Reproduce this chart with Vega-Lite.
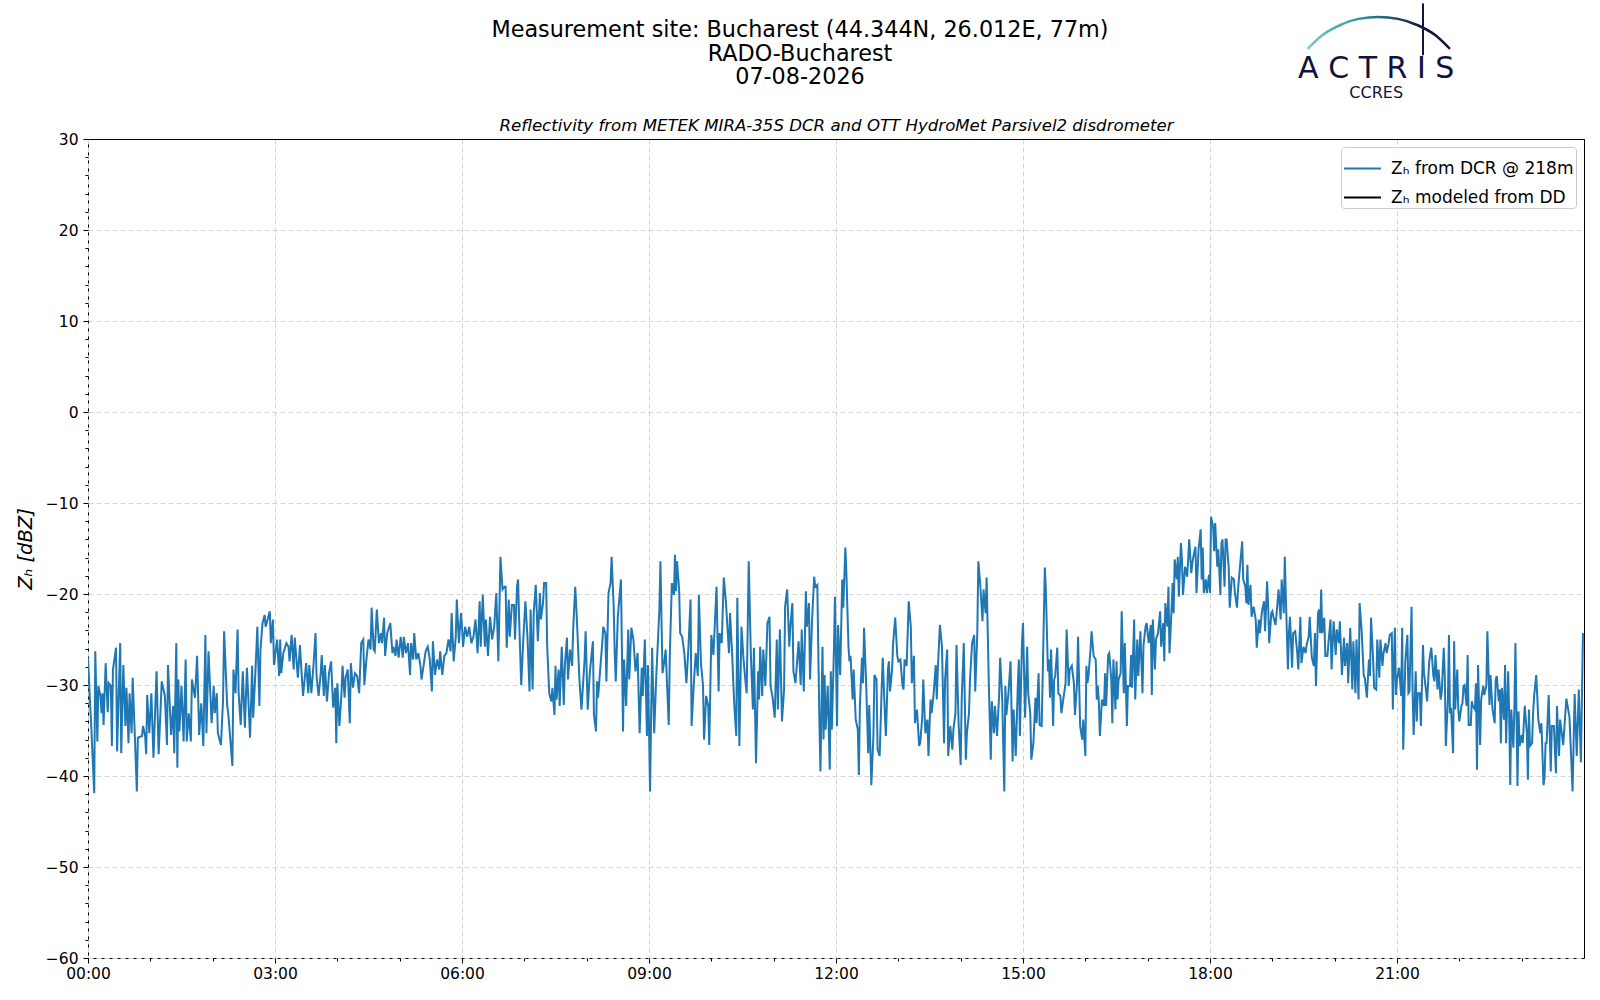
{
"$schema":"https://vega.github.io/schema/vega-lite/v6.json",
"width":1496,"height":819,
"autosize":{"type":"none"},
"padding":{"left":88,"top":139,"right":16,"bottom":42},
"background":"white",
"title":{"text":["Measurement site: Bucharest (44.344N, 26.012E, 77m)","RADO-Bucharest","07-08-2026"],"font":"DejaVu Sans","fontSize":22.3,"fontWeight":"normal","color":"black","anchor":"middle","dx":-36,"lineHeight":23.5,"offset":-86},
"config":{
"view":{"stroke":"black","strokeWidth":1},
"axis":{"labelFont":"DejaVu Sans","titleFont":"DejaVu Sans","labelColor":"black","titleColor":"black","tickColor":"black","labelFontSize":15.5,"domain":false,"tickSize":5,"tickWidth":1},
"legend":{"labelFont":"DejaVu Sans","labelFontSize":17,"labelColor":"black","symbolType":"stroke","symbolStrokeWidth":2,"symbolSize":1369,"padding":2,"fillColor":"rgba(255,255,255,0.8)","strokeColor":"#cccccc","cornerRadius":3,"offset":8,"rowPadding":1,"labelOffset":9,"labelLimit":0}
},
"layer":[
{
"data":{"format":{"parse":{"t":"date:'%H:%M'"}},"values":[
{"t":"00:00","z":-27.0},{"t":"00:02","z":-32.0},{"t":"00:03","z":-34.2},{"t":"00:06","z":-41.9},{"t":"00:07","z":-26.3},{"t":"00:09","z":-36.2},{"t":"00:10","z":-30.1},{"t":"00:12","z":-31.2},{"t":"00:13","z":-33.1},{"t":"00:14","z":-30.9},{"t":"00:15","z":-34.4},{"t":"00:17","z":-27.6},{"t":"00:19","z":-33.0},{"t":"00:20","z":-29.8},{"t":"00:22","z":-30.1},{"t":"00:23","z":-36.7},{"t":"00:24","z":-28.3},{"t":"00:27","z":-25.9},{"t":"00:28","z":-37.3},{"t":"00:31","z":-25.4},{"t":"00:32","z":-37.5},{"t":"00:34","z":-27.8},{"t":"00:36","z":-34.5},{"t":"00:37","z":-30.3},{"t":"00:39","z":-36.4},{"t":"00:40","z":-30.9},{"t":"00:42","z":-35.3},{"t":"00:43","z":-29.2},{"t":"00:45","z":-35.3},{"t":"00:47","z":-41.7},{"t":"00:48","z":-35.8},{"t":"00:52","z":-35.6},{"t":"00:53","z":-34.5},{"t":"00:55","z":-35.6},{"t":"00:56","z":-37.6},{"t":"00:57","z":-31.1},{"t":"00:59","z":-35.3},
{"t":"01:01","z":-30.9},{"t":"01:03","z":-38.0},{"t":"01:06","z":-28.5},{"t":"01:08","z":-37.6},{"t":"01:11","z":-29.6},{"t":"01:14","z":-31.2},{"t":"01:16","z":-36.6},{"t":"01:17","z":-27.8},{"t":"01:20","z":-35.5},{"t":"01:22","z":-32.3},{"t":"01:23","z":-37.5},{"t":"01:25","z":-25.4},{"t":"01:26","z":-39.1},{"t":"01:27","z":-29.4},{"t":"01:28","z":-35.1},{"t":"01:30","z":-30.1},{"t":"01:32","z":-36.2},{"t":"01:34","z":-27.2},{"t":"01:35","z":-36.2},{"t":"01:37","z":-33.1},{"t":"01:39","z":-36.2},{"t":"01:40","z":-29.4},{"t":"01:43","z":-31.4},{"t":"01:45","z":-26.8},{"t":"01:47","z":-35.5},{"t":"01:49","z":-32.0},{"t":"01:51","z":-36.7},{"t":"01:53","z":-24.5},{"t":"01:54","z":-35.3},{"t":"01:56","z":-26.3},{"t":"01:59","z":-34.2},
{"t":"02:01","z":-30.1},{"t":"02:02","z":-33.1},{"t":"02:04","z":-30.9},{"t":"02:05","z":-35.3},{"t":"02:08","z":-36.6},{"t":"02:10","z":-31.6},{"t":"02:11","z":-24.1},{"t":"02:14","z":-32.3},{"t":"02:15","z":-33.1},{"t":"02:19","z":-38.9},{"t":"02:20","z":-28.3},{"t":"02:22","z":-30.9},{"t":"02:24","z":-23.9},{"t":"02:25","z":-30.9},{"t":"02:27","z":-34.4},{"t":"02:29","z":-28.5},{"t":"02:31","z":-34.7},{"t":"02:33","z":-28.1},{"t":"02:36","z":-35.8},{"t":"02:38","z":-27.9},{"t":"02:39","z":-33.6},{"t":"02:41","z":-28.9},{"t":"02:43","z":-23.6},{"t":"02:45","z":-32.3},{"t":"02:46","z":-26.1},{"t":"02:48","z":-23.2},{"t":"02:50","z":-22.3},{"t":"02:51","z":-23.6},{"t":"02:55","z":-21.9},{"t":"02:56","z":-25.4},{"t":"02:58","z":-22.8},{"t":"02:59","z":-27.8},
{"t":"03:02","z":-25.0},{"t":"03:04","z":-29.0},{"t":"03:05","z":-25.0},{"t":"03:06","z":-28.7},{"t":"03:08","z":-26.5},{"t":"03:11","z":-25.4},{"t":"03:13","z":-25.8},{"t":"03:14","z":-27.4},{"t":"03:16","z":-24.5},{"t":"03:18","z":-28.3},{"t":"03:19","z":-24.8},{"t":"03:22","z":-29.2},{"t":"03:24","z":-25.6},{"t":"03:25","z":-27.6},{"t":"03:27","z":-31.2},{"t":"03:30","z":-27.6},{"t":"03:32","z":-30.9},{"t":"03:33","z":-27.8},{"t":"03:35","z":-30.9},{"t":"03:37","z":-27.9},{"t":"03:39","z":-24.3},{"t":"03:40","z":-29.0},{"t":"03:42","z":-31.2},{"t":"03:44","z":-28.7},{"t":"03:45","z":-26.7},{"t":"03:47","z":-31.2},{"t":"03:48","z":-27.8},{"t":"03:50","z":-31.8},{"t":"03:52","z":-28.7},{"t":"03:54","z":-27.4},{"t":"03:56","z":-32.5},{"t":"03:58","z":-30.3},{"t":"03:59","z":-36.4},
{"t":"04:00","z":-29.8},{"t":"04:02","z":-34.5},{"t":"04:04","z":-30.9},{"t":"04:05","z":-27.9},{"t":"04:07","z":-31.4},{"t":"04:08","z":-29.2},{"t":"04:10","z":-28.3},{"t":"04:12","z":-34.2},{"t":"04:13","z":-27.6},{"t":"04:15","z":-30.3},{"t":"04:17","z":-28.7},{"t":"04:19","z":-29.0},{"t":"04:21","z":-30.9},{"t":"04:23","z":-25.4},{"t":"04:25","z":-25.0},{"t":"04:26","z":-30.0},{"t":"04:28","z":-27.2},{"t":"04:30","z":-25.0},{"t":"04:32","z":-26.1},{"t":"04:33","z":-21.5},{"t":"04:35","z":-26.1},{"t":"04:36","z":-26.3},{"t":"04:38","z":-21.7},{"t":"04:40","z":-25.4},{"t":"04:42","z":-24.3},{"t":"04:43","z":-25.4},{"t":"04:45","z":-22.6},{"t":"04:46","z":-26.8},{"t":"04:48","z":-24.3},{"t":"04:51","z":-23.2},{"t":"04:53","z":-26.5},{"t":"04:54","z":-25.8},{"t":"04:56","z":-26.8},{"t":"04:57","z":-25.0},{"t":"04:59","z":-27.0},
{"t":"05:01","z":-24.7},{"t":"05:03","z":-27.0},{"t":"05:04","z":-24.7},{"t":"05:06","z":-26.5},{"t":"05:08","z":-25.4},{"t":"05:10","z":-28.9},{"t":"05:11","z":-25.4},{"t":"05:13","z":-27.2},{"t":"05:14","z":-24.3},{"t":"05:16","z":-27.2},{"t":"05:18","z":-26.5},{"t":"05:20","z":-27.9},{"t":"05:21","z":-29.4},{"t":"05:23","z":-27.9},{"t":"05:25","z":-26.3},{"t":"05:27","z":-25.8},{"t":"05:29","z":-27.2},{"t":"05:31","z":-30.7},{"t":"05:32","z":-25.2},{"t":"05:34","z":-28.9},{"t":"05:36","z":-27.2},{"t":"05:38","z":-28.3},{"t":"05:39","z":-26.3},{"t":"05:41","z":-28.9},{"t":"05:43","z":-26.8},{"t":"05:45","z":-26.5},{"t":"05:47","z":-25.0},{"t":"05:49","z":-26.3},{"t":"05:50","z":-22.1},{"t":"05:52","z":-27.4},{"t":"05:54","z":-24.7},{"t":"05:55","z":-20.6},{"t":"05:57","z":-25.4},{"t":"05:59","z":-22.1},
{"t":"06:00","z":-23.6},{"t":"06:01","z":-25.8},{"t":"06:03","z":-23.6},{"t":"06:05","z":-24.7},{"t":"06:07","z":-23.6},{"t":"06:09","z":-25.4},{"t":"06:11","z":-24.7},{"t":"06:13","z":-22.8},{"t":"06:15","z":-26.5},{"t":"06:17","z":-20.8},{"t":"06:18","z":-25.8},{"t":"06:20","z":-20.1},{"t":"06:22","z":-25.8},{"t":"06:23","z":-22.8},{"t":"06:25","z":-26.8},{"t":"06:27","z":-22.5},{"t":"06:29","z":-25.0},{"t":"06:31","z":-23.6},{"t":"06:33","z":-19.9},{"t":"06:35","z":-27.4},{"t":"06:37","z":-15.9},{"t":"06:39","z":-19.5},{"t":"06:41","z":-19.2},{"t":"06:42","z":-19.2},{"t":"06:43","z":-25.9},{"t":"06:45","z":-20.6},{"t":"06:46","z":-24.7},{"t":"06:48","z":-21.2},{"t":"06:50","z":-21.2},{"t":"06:51","z":-25.0},{"t":"06:53","z":-19.2},{"t":"06:54","z":-18.4},{"t":"06:55","z":-22.8},{"t":"06:57","z":-30.0},{"t":"06:59","z":-25.0},
{"t":"07:01","z":-20.8},{"t":"07:03","z":-24.7},{"t":"07:05","z":-30.7},{"t":"07:06","z":-21.7},{"t":"07:08","z":-30.5},{"t":"07:09","z":-22.1},{"t":"07:11","z":-19.0},{"t":"07:13","z":-25.2},{"t":"07:15","z":-19.9},{"t":"07:16","z":-22.8},{"t":"07:18","z":-21.0},{"t":"07:19","z":-18.8},{"t":"07:21","z":-18.8},{"t":"07:22","z":-25.8},{"t":"07:24","z":-30.9},{"t":"07:26","z":-31.8},{"t":"07:27","z":-30.3},{"t":"07:29","z":-33.3},{"t":"07:30","z":-27.9},{"t":"07:31","z":-31.6},{"t":"07:33","z":-28.3},{"t":"07:34","z":-32.3},{"t":"07:36","z":-25.8},{"t":"07:38","z":-32.2},{"t":"07:39","z":-27.9},{"t":"07:41","z":-24.8},{"t":"07:42","z":-29.4},{"t":"07:44","z":-26.1},{"t":"07:46","z":-27.9},{"t":"07:47","z":-23.9},{"t":"07:49","z":-19.2},{"t":"07:50","z":-21.4},{"t":"07:51","z":-23.9},{"t":"07:53","z":-29.4},{"t":"07:55","z":-32.7},{"t":"07:58","z":-27.2},{"t":"07:59","z":-24.1},
{"t":"08:01","z":-32.7},{"t":"08:03","z":-28.7},{"t":"08:06","z":-25.2},{"t":"08:07","z":-33.3},{"t":"08:09","z":-35.1},{"t":"08:10","z":-29.6},{"t":"08:11","z":-31.4},{"t":"08:13","z":-28.3},{"t":"08:15","z":-25.4},{"t":"08:16","z":-23.6},{"t":"08:18","z":-24.3},{"t":"08:19","z":-29.6},{"t":"08:21","z":-19.9},{"t":"08:23","z":-18.8},{"t":"08:24","z":-15.9},{"t":"08:26","z":-21.4},{"t":"08:27","z":-26.5},{"t":"08:28","z":-29.6},{"t":"08:30","z":-22.5},{"t":"08:33","z":-18.4},{"t":"08:35","z":-35.1},{"t":"08:36","z":-27.2},{"t":"08:38","z":-32.3},{"t":"08:40","z":-23.9},{"t":"08:41","z":-29.4},{"t":"08:43","z":-23.7},{"t":"08:45","z":-25.0},{"t":"08:47","z":-28.5},{"t":"08:49","z":-26.5},{"t":"08:51","z":-35.3},{"t":"08:53","z":-28.1},{"t":"08:54","z":-31.2},{"t":"08:56","z":-25.0},{"t":"08:58","z":-35.6},{"t":"08:59","z":-27.8},
{"t":"09:01","z":-41.7},{"t":"09:03","z":-25.9},{"t":"09:05","z":-35.3},{"t":"09:07","z":-29.0},{"t":"09:10","z":-21.7},{"t":"09:11","z":-16.4},{"t":"09:13","z":-28.7},{"t":"09:15","z":-27.2},{"t":"09:16","z":-26.1},{"t":"09:19","z":-34.4},{"t":"09:20","z":-26.8},{"t":"09:22","z":-18.8},{"t":"09:24","z":-20.1},{"t":"09:25","z":-15.7},{"t":"09:26","z":-19.7},{"t":"09:27","z":-16.4},{"t":"09:29","z":-19.5},{"t":"09:30","z":-24.3},{"t":"09:32","z":-24.7},{"t":"09:34","z":-26.5},{"t":"09:36","z":-29.8},{"t":"09:38","z":-25.8},{"t":"09:40","z":-20.6},{"t":"09:41","z":-34.5},{"t":"09:43","z":-30.1},{"t":"09:45","z":-26.5},{"t":"09:47","z":-29.0},{"t":"09:48","z":-20.1},{"t":"09:50","z":-27.6},{"t":"09:52","z":-30.1},{"t":"09:53","z":-36.0},{"t":"09:55","z":-31.2},{"t":"09:57","z":-32.3},{"t":"09:58","z":-36.6},
{"t":"10:00","z":-24.5},{"t":"10:02","z":-26.7},{"t":"10:05","z":-19.2},{"t":"10:07","z":-30.7},{"t":"10:08","z":-24.3},{"t":"10:10","z":-25.4},{"t":"10:12","z":-18.2},{"t":"10:14","z":-20.8},{"t":"10:17","z":-26.5},{"t":"10:18","z":-22.1},{"t":"10:20","z":-26.5},{"t":"10:22","z":-32.0},{"t":"10:24","z":-35.6},{"t":"10:25","z":-20.4},{"t":"10:27","z":-36.7},{"t":"10:29","z":-23.6},{"t":"10:31","z":-27.2},{"t":"10:33","z":-29.8},{"t":"10:34","z":-30.9},{"t":"10:36","z":-16.4},{"t":"10:38","z":-26.5},{"t":"10:40","z":-32.7},{"t":"10:41","z":-25.9},{"t":"10:43","z":-38.6},{"t":"10:45","z":-28.5},{"t":"10:46","z":-31.6},{"t":"10:47","z":-25.8},{"t":"10:49","z":-31.2},{"t":"10:50","z":-26.1},{"t":"10:52","z":-30.1},{"t":"10:54","z":-23.2},{"t":"10:56","z":-22.5},{"t":"10:57","z":-30.1},{"t":"10:59","z":-31.4},
{"t":"11:01","z":-33.6},{"t":"11:03","z":-25.0},{"t":"11:04","z":-32.7},{"t":"11:06","z":-23.9},{"t":"11:08","z":-34.0},{"t":"11:10","z":-30.5},{"t":"11:11","z":-21.4},{"t":"11:13","z":-19.5},{"t":"11:15","z":-25.8},{"t":"11:16","z":-23.7},{"t":"11:18","z":-21.0},{"t":"11:19","z":-28.5},{"t":"11:21","z":-29.8},{"t":"11:23","z":-26.8},{"t":"11:24","z":-25.2},{"t":"11:26","z":-30.0},{"t":"11:27","z":-23.9},{"t":"11:29","z":-30.7},{"t":"11:31","z":-19.7},{"t":"11:32","z":-23.6},{"t":"11:34","z":-21.0},{"t":"11:35","z":-29.4},{"t":"11:37","z":-22.8},{"t":"11:39","z":-18.1},{"t":"11:40","z":-19.2},{"t":"11:42","z":-19.0},{"t":"11:44","z":-33.8},{"t":"11:45","z":-39.5},{"t":"11:47","z":-25.8},{"t":"11:48","z":-36.0},{"t":"11:49","z":-28.9},{"t":"11:50","z":-34.9},{"t":"11:52","z":-30.1},{"t":"11:54","z":-39.3},{"t":"11:55","z":-28.5},{"t":"11:56","z":-34.9},{"t":"11:58","z":-26.1},{"t":"11:59","z":-20.3},
{"t":"12:01","z":-34.5},{"t":"12:02","z":-23.4},{"t":"12:04","z":-28.9},{"t":"12:06","z":-18.4},{"t":"12:07","z":-21.5},{"t":"12:09","z":-14.9},{"t":"12:10","z":-17.7},{"t":"12:12","z":-25.8},{"t":"12:13","z":-27.4},{"t":"12:14","z":-26.8},{"t":"12:16","z":-31.6},{"t":"12:17","z":-28.3},{"t":"12:19","z":-33.8},{"t":"12:21","z":-34.9},{"t":"12:22","z":-39.9},{"t":"12:23","z":-32.3},{"t":"12:25","z":-27.0},{"t":"12:26","z":-29.8},{"t":"12:27","z":-23.7},{"t":"12:29","z":-29.8},{"t":"12:31","z":-37.5},{"t":"12:32","z":-32.2},{"t":"12:34","z":-41.0},{"t":"12:36","z":-35.6},{"t":"12:37","z":-28.9},{"t":"12:39","z":-29.4},{"t":"12:40","z":-37.1},{"t":"12:42","z":-37.8},{"t":"12:44","z":-30.3},{"t":"12:45","z":-27.0},{"t":"12:47","z":-33.1},{"t":"12:48","z":-35.6},{"t":"12:50","z":-28.3},{"t":"12:51","z":-27.4},{"t":"12:52","z":-30.7},{"t":"12:54","z":-28.3},{"t":"12:55","z":-25.4},{"t":"12:57","z":-22.6},{"t":"12:59","z":-26.8},
{"t":"13:00","z":-27.4},{"t":"13:02","z":-27.2},{"t":"13:04","z":-30.1},{"t":"13:05","z":-30.5},{"t":"13:06","z":-27.2},{"t":"13:08","z":-27.9},{"t":"13:10","z":-20.8},{"t":"13:12","z":-23.6},{"t":"13:13","z":-29.8},{"t":"13:15","z":-26.8},{"t":"13:16","z":-34.2},{"t":"13:18","z":-32.7},{"t":"13:20","z":-36.7},{"t":"13:21","z":-36.4},{"t":"13:23","z":-33.6},{"t":"13:24","z":-29.4},{"t":"13:26","z":-35.3},{"t":"13:28","z":-33.8},{"t":"13:29","z":-37.8},{"t":"13:31","z":-31.6},{"t":"13:32","z":-33.1},{"t":"13:34","z":-30.9},{"t":"13:36","z":-27.8},{"t":"13:37","z":-31.6},{"t":"13:38","z":-28.3},{"t":"13:40","z":-23.4},{"t":"13:42","z":-25.8},{"t":"13:44","z":-36.4},{"t":"13:45","z":-29.4},{"t":"13:47","z":-26.1},{"t":"13:48","z":-37.8},{"t":"13:50","z":-34.5},{"t":"13:52","z":-37.1},{"t":"13:53","z":-34.9},{"t":"13:55","z":-33.1},{"t":"13:56","z":-25.6},{"t":"13:58","z":-34.2},
{"t":"14:00","z":-38.8},{"t":"14:01","z":-31.6},{"t":"14:03","z":-25.4},{"t":"14:05","z":-38.2},{"t":"14:06","z":-35.3},{"t":"14:08","z":-33.1},{"t":"14:09","z":-29.4},{"t":"14:11","z":-25.4},{"t":"14:13","z":-24.5},{"t":"14:14","z":-30.7},{"t":"14:16","z":-24.3},{"t":"14:17","z":-16.4},{"t":"14:19","z":-19.2},{"t":"14:21","z":-23.0},{"t":"14:22","z":-19.5},{"t":"14:24","z":-22.1},{"t":"14:25","z":-18.2},{"t":"14:27","z":-29.4},{"t":"14:29","z":-38.2},{"t":"14:30","z":-31.8},{"t":"14:32","z":-35.3},{"t":"14:33","z":-32.3},{"t":"14:35","z":-35.6},{"t":"14:37","z":-31.2},{"t":"14:38","z":-27.0},{"t":"14:40","z":-31.6},{"t":"14:42","z":-41.7},{"t":"14:43","z":-30.1},{"t":"14:44","z":-33.3},{"t":"14:46","z":-30.9},{"t":"14:48","z":-27.4},{"t":"14:50","z":-38.4},{"t":"14:51","z":-32.7},{"t":"14:53","z":-37.8},{"t":"14:55","z":-30.1},{"t":"14:56","z":-27.2},{"t":"14:57","z":-35.6},{"t":"14:59","z":-25.4},
{"t":"15:00","z":-23.2},{"t":"15:02","z":-33.6},{"t":"15:04","z":-25.8},{"t":"15:05","z":-30.9},{"t":"15:07","z":-33.1},{"t":"15:08","z":-38.2},{"t":"15:10","z":-36.4},{"t":"15:12","z":-31.4},{"t":"15:13","z":-34.2},{"t":"15:15","z":-28.7},{"t":"15:16","z":-34.4},{"t":"15:18","z":-34.5},{"t":"15:19","z":-28.7},{"t":"15:21","z":-17.1},{"t":"15:22","z":-19.5},{"t":"15:24","z":-28.5},{"t":"15:25","z":-27.2},{"t":"15:26","z":-31.4},{"t":"15:27","z":-26.1},{"t":"15:29","z":-34.5},{"t":"15:30","z":-29.4},{"t":"15:31","z":-29.0},{"t":"15:33","z":-25.9},{"t":"15:34","z":-30.9},{"t":"15:36","z":-31.2},{"t":"15:37","z":-33.1},{"t":"15:39","z":-31.4},{"t":"15:41","z":-29.8},{"t":"15:42","z":-23.9},{"t":"15:44","z":-30.1},{"t":"15:45","z":-28.3},{"t":"15:47","z":-27.9},{"t":"15:49","z":-29.8},{"t":"15:50","z":-33.3},{"t":"15:52","z":-29.8},{"t":"15:53","z":-24.7},{"t":"15:55","z":-34.5},{"t":"15:57","z":-36.0},{"t":"15:58","z":-33.8},
{"t":"16:00","z":-37.8},{"t":"16:01","z":-27.9},{"t":"16:02","z":-29.8},{"t":"16:03","z":-29.0},{"t":"16:05","z":-26.1},{"t":"16:06","z":-24.1},{"t":"16:08","z":-26.8},{"t":"16:10","z":-27.2},{"t":"16:11","z":-31.6},{"t":"16:12","z":-30.1},{"t":"16:13","z":-31.8},{"t":"16:14","z":-35.6},{"t":"16:16","z":-31.6},{"t":"16:18","z":-32.3},{"t":"16:19","z":-28.7},{"t":"16:20","z":-32.3},{"t":"16:22","z":-26.7},{"t":"16:23","z":-26.5},{"t":"16:25","z":-29.4},{"t":"16:26","z":-34.2},{"t":"16:27","z":-27.2},{"t":"16:29","z":-32.7},{"t":"16:30","z":-27.4},{"t":"16:31","z":-31.6},{"t":"16:32","z":-29.4},{"t":"16:34","z":-28.7},{"t":"16:35","z":-21.9},{"t":"16:37","z":-30.9},{"t":"16:38","z":-25.4},{"t":"16:40","z":-34.5},{"t":"16:41","z":-30.1},{"t":"16:43","z":-30.1},{"t":"16:44","z":-26.7},{"t":"16:45","z":-30.3},{"t":"16:47","z":-22.8},{"t":"16:48","z":-31.6},{"t":"16:50","z":-25.0},{"t":"16:51","z":-29.0},{"t":"16:53","z":-24.1},{"t":"16:55","z":-30.9},{"t":"16:56","z":-25.6},{"t":"16:58","z":-23.6},{"t":"16:59","z":-23.2},
{"t":"17:01","z":-25.4},{"t":"17:03","z":-23.4},{"t":"17:04","z":-31.1},{"t":"17:05","z":-22.8},{"t":"17:07","z":-28.3},{"t":"17:08","z":-25.0},{"t":"17:10","z":-24.3},{"t":"17:12","z":-21.9},{"t":"17:13","z":-25.8},{"t":"17:15","z":-23.2},{"t":"17:16","z":-27.4},{"t":"17:17","z":-21.0},{"t":"17:19","z":-23.6},{"t":"17:20","z":-19.2},{"t":"17:21","z":-26.5},{"t":"17:23","z":-21.7},{"t":"17:24","z":-18.8},{"t":"17:25","z":-22.1},{"t":"17:26","z":-16.2},{"t":"17:28","z":-18.4},{"t":"17:29","z":-15.9},{"t":"17:30","z":-20.3},{"t":"17:32","z":-14.4},{"t":"17:33","z":-16.2},{"t":"17:34","z":-20.1},{"t":"17:36","z":-17.0},{"t":"17:38","z":-18.1},{"t":"17:39","z":-16.2},{"t":"17:40","z":-14.0},{"t":"17:42","z":-17.7},{"t":"17:43","z":-16.6},{"t":"17:44","z":-15.9},{"t":"17:46","z":-14.8},{"t":"17:47","z":-19.9},{"t":"17:49","z":-15.1},{"t":"17:51","z":-12.9},{"t":"17:52","z":-18.4},{"t":"17:53","z":-14.9},{"t":"17:54","z":-19.9},{"t":"17:56","z":-18.4},{"t":"17:57","z":-19.9},{"t":"17:59","z":-17.9},
{"t":"18:00","z":-19.9},{"t":"18:01","z":-11.5},{"t":"18:03","z":-12.6},{"t":"18:04","z":-15.3},{"t":"18:05","z":-12.2},{"t":"18:07","z":-17.0},{"t":"18:08","z":-15.1},{"t":"18:10","z":-20.1},{"t":"18:11","z":-14.4},{"t":"18:12","z":-14.0},{"t":"18:14","z":-19.2},{"t":"18:15","z":-14.0},{"t":"18:16","z":-14.0},{"t":"18:18","z":-17.1},{"t":"18:19","z":-21.5},{"t":"18:21","z":-18.2},{"t":"18:23","z":-18.4},{"t":"18:24","z":-19.9},{"t":"18:26","z":-21.5},{"t":"18:27","z":-19.5},{"t":"18:29","z":-16.8},{"t":"18:31","z":-14.2},{"t":"18:32","z":-18.4},{"t":"18:34","z":-19.2},{"t":"18:35","z":-21.0},{"t":"18:36","z":-16.8},{"t":"18:37","z":-21.2},{"t":"18:39","z":-19.0},{"t":"18:40","z":-22.5},{"t":"18:42","z":-21.4},{"t":"18:44","z":-22.8},{"t":"18:45","z":-25.9},{"t":"18:47","z":-22.8},{"t":"18:48","z":-24.3},{"t":"18:50","z":-21.9},{"t":"18:52","z":-20.8},{"t":"18:53","z":-24.1},{"t":"18:55","z":-18.6},{"t":"18:56","z":-21.4},{"t":"18:57","z":-25.4},{"t":"18:59","z":-22.1},
{"t":"19:00","z":-21.9},{"t":"19:01","z":-22.5},{"t":"19:03","z":-23.4},{"t":"19:04","z":-22.3},{"t":"19:06","z":-19.5},{"t":"19:08","z":-22.8},{"t":"19:09","z":-18.4},{"t":"19:11","z":-22.1},{"t":"19:12","z":-15.9},{"t":"19:13","z":-20.3},{"t":"19:15","z":-28.3},{"t":"19:16","z":-24.3},{"t":"19:17","z":-22.5},{"t":"19:19","z":-28.1},{"t":"19:20","z":-24.3},{"t":"19:22","z":-24.1},{"t":"19:24","z":-26.5},{"t":"19:25","z":-28.3},{"t":"19:27","z":-22.5},{"t":"19:28","z":-27.6},{"t":"19:30","z":-25.8},{"t":"19:32","z":-26.5},{"t":"19:33","z":-25.6},{"t":"19:35","z":-24.7},{"t":"19:36","z":-22.5},{"t":"19:38","z":-27.0},{"t":"19:40","z":-27.9},{"t":"19:41","z":-24.3},{"t":"19:42","z":-30.1},{"t":"19:44","z":-22.1},{"t":"19:45","z":-21.7},{"t":"19:46","z":-24.3},{"t":"19:47","z":-19.5},{"t":"19:48","z":-24.3},{"t":"19:50","z":-22.6},{"t":"19:51","z":-26.8},{"t":"19:53","z":-26.8},{"t":"19:54","z":-25.4},{"t":"19:56","z":-22.8},{"t":"19:57","z":-28.3},{"t":"19:59","z":-23.0},
{"t":"20:01","z":-26.7},{"t":"20:02","z":-23.9},{"t":"20:04","z":-25.4},{"t":"20:05","z":-23.0},{"t":"20:07","z":-28.9},{"t":"20:09","z":-24.8},{"t":"20:10","z":-27.9},{"t":"20:12","z":-25.4},{"t":"20:13","z":-29.8},{"t":"20:15","z":-23.7},{"t":"20:17","z":-30.5},{"t":"20:18","z":-25.2},{"t":"20:20","z":-30.9},{"t":"20:21","z":-25.0},{"t":"20:23","z":-31.6},{"t":"20:24","z":-21.0},{"t":"20:26","z":-24.1},{"t":"20:28","z":-29.0},{"t":"20:29","z":-29.2},{"t":"20:31","z":-31.4},{"t":"20:33","z":-27.2},{"t":"20:34","z":-29.0},{"t":"20:35","z":-22.6},{"t":"20:37","z":-27.2},{"t":"20:38","z":-30.3},{"t":"20:40","z":-30.5},{"t":"20:41","z":-25.0},{"t":"20:43","z":-29.2},{"t":"20:44","z":-25.0},{"t":"20:46","z":-27.9},{"t":"20:47","z":-26.5},{"t":"20:49","z":-25.4},{"t":"20:50","z":-26.5},{"t":"20:52","z":-25.4},{"t":"20:53","z":-24.5},{"t":"20:55","z":-24.3},{"t":"20:56","z":-32.7},{"t":"20:57","z":-27.6},{"t":"20:58","z":-23.7},{"t":"20:59","z":-31.1},
{"t":"21:00","z":-29.4},{"t":"21:02","z":-28.1},{"t":"21:04","z":-31.2},{"t":"21:05","z":-23.7},{"t":"21:06","z":-37.1},{"t":"21:08","z":-27.4},{"t":"21:10","z":-24.5},{"t":"21:11","z":-30.9},{"t":"21:12","z":-30.7},{"t":"21:14","z":-21.4},{"t":"21:15","z":-30.7},{"t":"21:16","z":-35.5},{"t":"21:18","z":-28.5},{"t":"21:19","z":-34.0},{"t":"21:20","z":-30.9},{"t":"21:22","z":-30.9},{"t":"21:23","z":-34.5},{"t":"21:25","z":-25.6},{"t":"21:26","z":-28.7},{"t":"21:28","z":-30.7},{"t":"21:29","z":-31.8},{"t":"21:31","z":-27.4},{"t":"21:33","z":-25.9},{"t":"21:35","z":-29.0},{"t":"21:36","z":-29.6},{"t":"21:37","z":-26.7},{"t":"21:39","z":-30.5},{"t":"21:40","z":-28.3},{"t":"21:42","z":-31.6},{"t":"21:43","z":-30.9},{"t":"21:45","z":-25.9},{"t":"21:46","z":-29.0},{"t":"21:47","z":-36.7},{"t":"21:49","z":-31.6},{"t":"21:50","z":-24.5},{"t":"21:51","z":-33.1},{"t":"21:52","z":-32.5},{"t":"21:54","z":-37.5},{"t":"21:55","z":-25.2},{"t":"21:56","z":-32.7},{"t":"21:58","z":-28.3},{"t":"21:59","z":-32.7},
{"t":"22:00","z":-34.0},{"t":"22:02","z":-32.3},{"t":"22:03","z":-32.0},{"t":"22:04","z":-30.1},{"t":"22:05","z":-30.0},{"t":"22:07","z":-32.3},{"t":"22:08","z":-26.7},{"t":"22:09","z":-34.4},{"t":"22:11","z":-34.4},{"t":"22:12","z":-31.8},{"t":"22:13","z":-32.3},{"t":"22:15","z":-32.7},{"t":"22:16","z":-29.8},{"t":"22:17","z":-39.3},{"t":"22:18","z":-27.8},{"t":"22:20","z":-36.6},{"t":"22:21","z":-31.6},{"t":"22:23","z":-30.1},{"t":"22:24","z":-31.1},{"t":"22:26","z":-30.1},{"t":"22:27","z":-24.1},{"t":"22:29","z":-32.2},{"t":"22:30","z":-28.9},{"t":"22:31","z":-30.9},{"t":"22:32","z":-32.7},{"t":"22:34","z":-34.2},{"t":"22:35","z":-29.4},{"t":"22:36","z":-29.0},{"t":"22:38","z":-31.8},{"t":"22:39","z":-30.5},{"t":"22:40","z":-36.4},{"t":"22:41","z":-30.3},{"t":"22:43","z":-33.8},{"t":"22:44","z":-27.8},{"t":"22:45","z":-36.4},{"t":"22:47","z":-28.5},{"t":"22:48","z":-33.4},{"t":"22:49","z":-41.0},{"t":"22:50","z":-32.7},{"t":"22:52","z":-36.9},{"t":"22:53","z":-32.5},{"t":"22:54","z":-25.4},{"t":"22:56","z":-41.1},{"t":"22:57","z":-32.9},{"t":"22:58","z":-36.7},
{"t":"23:00","z":-35.5},{"t":"23:01","z":-36.4},{"t":"23:03","z":-32.3},{"t":"23:05","z":-35.3},{"t":"23:06","z":-40.4},{"t":"23:07","z":-32.7},{"t":"23:08","z":-36.7},{"t":"23:10","z":-36.4},{"t":"23:11","z":-33.1},{"t":"23:12","z":-31.2},{"t":"23:14","z":-28.9},{"t":"23:15","z":-31.2},{"t":"23:16","z":-33.8},{"t":"23:18","z":-35.3},{"t":"23:19","z":-34.2},{"t":"23:21","z":-41.0},{"t":"23:22","z":-40.2},{"t":"23:23","z":-36.4},{"t":"23:24","z":-36.4},{"t":"23:26","z":-31.1},{"t":"23:28","z":-39.5},{"t":"23:29","z":-34.5},{"t":"23:31","z":-34.5},{"t":"23:33","z":-39.7},{"t":"23:34","z":-32.3},{"t":"23:36","z":-37.8},{"t":"23:37","z":-33.8},{"t":"23:40","z":-36.6},{"t":"23:43","z":-31.5},{"t":"23:46","z":-33.5},{"t":"23:49","z":-41.7},{"t":"23:51","z":-31.0},{"t":"23:53","z":-37.8},{"t":"23:55","z":-30.5},{"t":"23:57","z":-38.5},{"t":"23:59","z":-24.3}
]},
"mark":{"type":"line","strokeWidth":2,"clip":true},
"encoding":{
"x":{"field":"t","type":"temporal","scale":{"domain":[{"year":1900,"month":1,"date":1,"hours":0},{"year":1900,"month":1,"date":2,"hours":0}],"nice":false},
"axis":{"orient":"bottom","values":[{"year":1900,"month":1,"date":1,"hours":0},{"year":1900,"month":1,"date":1,"hours":3},{"year":1900,"month":1,"date":1,"hours":6},{"year":1900,"month":1,"date":1,"hours":9},{"year":1900,"month":1,"date":1,"hours":12},{"year":1900,"month":1,"date":1,"hours":15},{"year":1900,"month":1,"date":1,"hours":18},{"year":1900,"month":1,"date":1,"hours":21}],"format":"%H:%M","title":null,"grid":true,"gridColor":"#d4d4d4","gridDash":[5,3],"gridWidth":1,"labelFlush":false,"labelOverlap":false,"labelPadding":3}},
"y":{"field":"z","type":"quantitative","scale":{"domain":[-60,30],"nice":false,"zero":false},
"axis":{"orient":"left","values":[-60,-50,-40,-30,-20,-10,0,10,20,30],"format":"d","title":"Zₕ [dBZ]","titleFontSize":19.5,"titleFontStyle":"italic","titleFontWeight":"normal","titlePadding":10,"grid":true,"gridColor":"#d4d4d4","gridDash":[5,3],"gridWidth":1,"labelPadding":5,"labelOverlap":false}},
"color":{"datum":"Zₕ from DCR @ 218m","type":"nominal","scale":{"domain":["Zₕ from DCR @ 218m","Zₕ modeled from DD"],"range":["#1f77b4","#000000"]},"legend":{"title":null,"orient":"top-right"}}
}
},
{
"data":{"format":{"parse":{"t":"date:'%H:%M'"}},"values":[{"t":"19:34","y":39.9},{"t":"19:48","y":41.4},{"t":"20:05","y":42.5},{"t":"20:23","y":43.2},{"t":"20:42","y":43.4},{"t":"21:01","y":43.2},{"t":"21:20","y":42.5},{"t":"21:37","y":41.4},{"t":"21:51","y":39.9}]},
"mark":{"type":"line","interpolate":"monotone","strokeWidth":2.5,"clip":false,"stroke":{"gradient":"linear","x1":0,"x2":1,"y1":0,"y2":0,"stops":[{"offset":0,"color":"#7ccbc6"},{"offset":0.4,"color":"#2b8e9c"},{"offset":0.8,"color":"#11123a"},{"offset":1,"color":"#11123a"}]}},
"encoding":{
"x":{"field":"t","type":"temporal","scale":{"domain":[{"year":1900,"month":1,"date":1,"hours":0},{"year":1900,"month":1,"date":2,"hours":0}],"nice":false},
"axis":{"orient":"bottom","values":[{"year":1900,"month":1,"date":1,"hours":1},{"year":1900,"month":1,"date":1,"hours":2},{"year":1900,"month":1,"date":1,"hours":4},{"year":1900,"month":1,"date":1,"hours":5},{"year":1900,"month":1,"date":1,"hours":7},{"year":1900,"month":1,"date":1,"hours":8},{"year":1900,"month":1,"date":1,"hours":10},{"year":1900,"month":1,"date":1,"hours":11},{"year":1900,"month":1,"date":1,"hours":13},{"year":1900,"month":1,"date":1,"hours":14},{"year":1900,"month":1,"date":1,"hours":16},{"year":1900,"month":1,"date":1,"hours":17},{"year":1900,"month":1,"date":1,"hours":19},{"year":1900,"month":1,"date":1,"hours":20},{"year":1900,"month":1,"date":1,"hours":22},{"year":1900,"month":1,"date":1,"hours":23}],"labels":false,"tickSize":3,"grid":false,"title":null}},
"y":{"field":"y","type":"quantitative","scale":{"domain":[-60,30],"nice":false,"zero":false},
"axis":{"orient":"left","values":[-58,-56,-54,-52,-48,-46,-44,-42,-38,-36,-34,-32,-28,-26,-24,-22,-18,-16,-14,-12,-8,-6,-4,-2,2,4,6,8,12,14,16,18,22,24,26,28],"labels":false,"tickSize":3,"grid":false,"title":null}}
}
},
{
"data":{"format":{"parse":{"t":"date:'%H:%M'"}},"values":[{"t":"20:40","y":36.7,"label":"A C T R I S"}]},
"mark":{"type":"text","font":"DejaVu Sans","fontSize":30,"color":"#11123a","align":"center","baseline":"alphabetic","clip":false},
"encoding":{
"x":{"field":"t","type":"temporal","scale":{"domain":[{"year":1900,"month":1,"date":1,"hours":0},{"year":1900,"month":1,"date":2,"hours":0}],"nice":false},
"axis":{"orient":"top","title":"Reflectivity from METEK MIRA-35S DCR and OTT HydroMet Parsivel2 disdrometer","titleFontStyle":"italic","titleFontSize":16.6,"titleFontWeight":"normal","titlePadding":6,"labels":false,"ticks":false,"grid":false,"domain":true,"domainColor":"black"}},
"y":{"field":"y","type":"quantitative","scale":{"domain":[-60,30],"nice":false,"zero":false},"axis":null},
"text":{"field":"label"}
}
},
{
"data":{"format":{"parse":{"t":"date:'%H:%M'"}},"values":[{"t":"20:40","y":34.5,"label":"CCRES"}]},
"mark":{"type":"text","font":"DejaVu Sans","fontSize":16,"color":"#11123a","align":"center","baseline":"alphabetic","clip":false},
"encoding":{
"x":{"field":"t","type":"temporal","scale":{"domain":[{"year":1900,"month":1,"date":1,"hours":0},{"year":1900,"month":1,"date":2,"hours":0}],"nice":false},"axis":null},
"y":{"field":"y","type":"quantitative","scale":{"domain":[-60,30],"nice":false,"zero":false},"axis":null},
"text":{"field":"label"}
}
},
{
"data":{"format":{"parse":{"t":"date:'%H:%M'"}},"values":[{"t":"21:25","y":44.9,"y2":39.2}]},
"mark":{"type":"rule","strokeWidth":2,"color":"#11123a","clip":false},
"encoding":{
"x":{"field":"t","type":"temporal","scale":{"domain":[{"year":1900,"month":1,"date":1,"hours":0},{"year":1900,"month":1,"date":2,"hours":0}],"nice":false},"axis":null},
"y":{"field":"y","type":"quantitative","scale":{"domain":[-60,30],"nice":false,"zero":false},"axis":null},
"y2":{"field":"y2"}
}
}
],
"resolve":{"axis":{"x":"independent","y":"independent"}}
}
